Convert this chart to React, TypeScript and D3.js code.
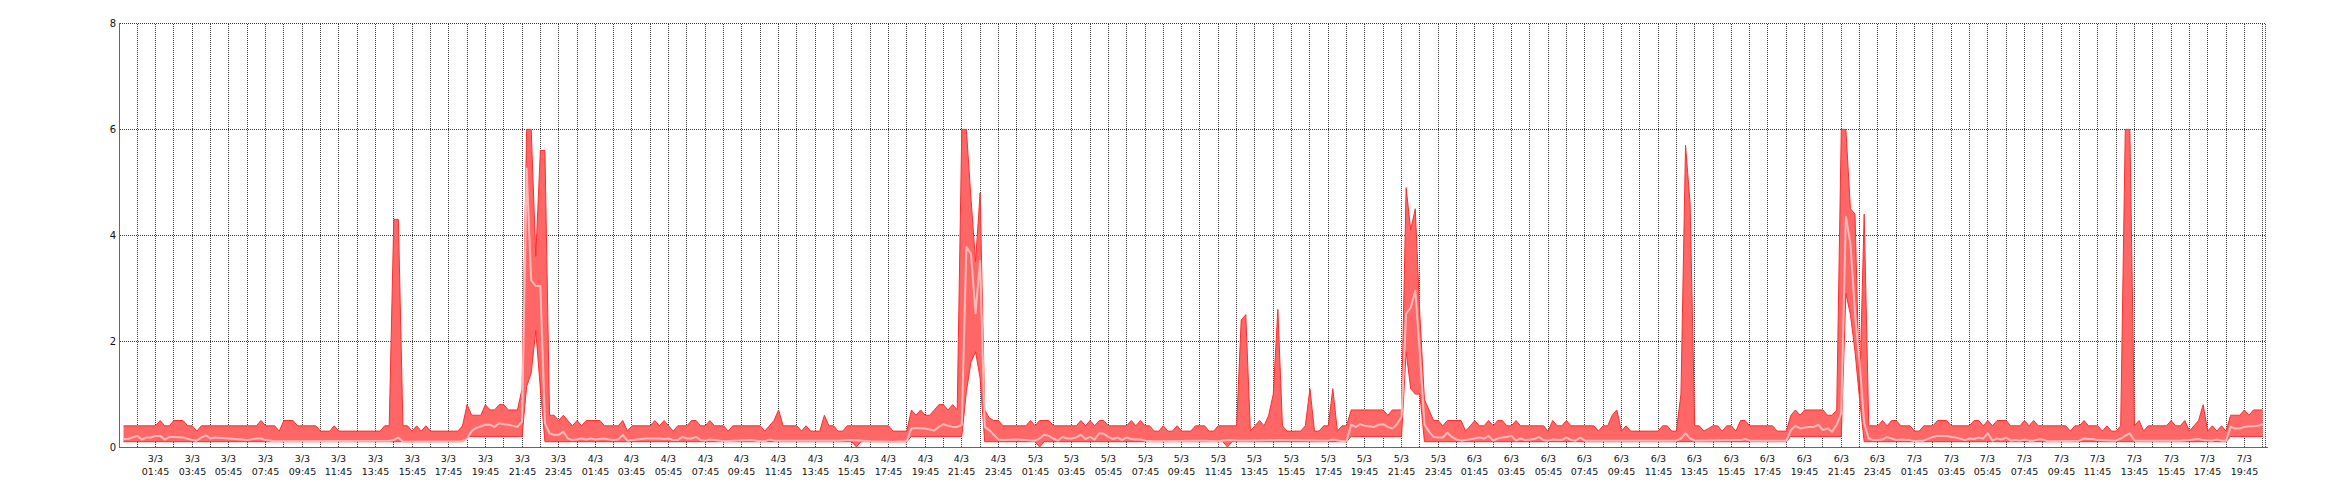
import React from "react";
import * as d3 from "d3";

// Each point: [quarter-hour index counted from 3/3 00:00, value]
const maxSeries: [number, number][] = [
  [0,0.4],[7,0.4],[8,0.5],[9,0.4],[10,0.4],[11,0.5],[13,0.5],[14,0.4],[15,0.4],[16,0.3],[17,0.4],[29,0.4],[30,0.5],[31,0.4],[33,0.4],[34,0.3],[35,0.5],[37,0.5],[38,0.4],[42,0.4],[43,0.3],[45,0.3],[46,0.4],[47,0.3],[56,0.3],[57,0.4],[58,0.4],[59,4.3],[60,4.3],[61,0.4],[62,0.4],[63,0.3],[64,0.4],[65,0.3],[66,0.4],[67,0.3],[73,0.3],[74,0.4],[75,0.8],[76,0.6],[78,0.6],[79,0.8],[80,0.7],[81,0.7],[82,0.8],[83,0.8],[84,0.7],[86,0.7],[87,1.1],[88,6],[89,6],[90,3.6],[91,5.6],[92,5.6],[93,0.6],[94,0.6],[95,0.5],[96,0.6],[97,0.5],[98,0.4],[99,0.5],[100,0.4],[101,0.5],[104,0.5],[105,0.4],[108,0.4],[109,0.5],[110,0.3],[111,0.4],[115,0.4],[116,0.5],[117,0.4],[118,0.5],[119,0.4],[120,0.3],[121,0.4],[123,0.4],[124,0.5],[125,0.5],[126,0.4],[127,0.4],[128,0.5],[129,0.4],[131,0.4],[132,0.3],[133,0.4],[139,0.4],[140,0.3],[141,0.4],[142,0.5],[143,0.7],[144,0.4],[147,0.4],[148,0.3],[149,0.4],[150,0.3],[152,0.3],[153,0.6],[154,0.4],[155,0.4],[156,0.3],[157,0.3],[158,0.4],[167,0.4],[168,0.3],[171,0.3],[172,0.7],[173,0.6],[174,0.7],[175,0.6],[176,0.6],[177,0.7],[178,0.8],[179,0.8],[180,0.7],[181,0.8],[182,0.7],[183,6],[184,6],[185,4.7],[186,3.5],[187,4.8],[188,0.7],[189,0.55],[190,0.5],[191,0.5],[192,0.4],[197,0.4],[198,0.5],[199,0.4],[200,0.5],[202,0.5],[203,0.4],[208,0.4],[209,0.5],[210,0.4],[211,0.5],[212,0.4],[213,0.5],[214,0.5],[215,0.4],[219,0.4],[220,0.5],[221,0.4],[222,0.5],[223,0.4],[224,0.4],[225,0.3],[226,0.3],[227,0.4],[228,0.3],[229,0.3],[230,0.4],[231,0.3],[233,0.3],[234,0.4],[236,0.4],[237,0.3],[238,0.3],[239,0.4],[243,0.4],[244,2.4],[245,2.5],[246,0.3],[247,0.4],[248,0.5],[249,0.4],[250,0.6],[251,1.0],[252,2.6],[253,0.4],[254,0.3],[257,0.3],[258,0.4],[259,1.1],[260,0.3],[261,0.3],[262,0.4],[263,0.4],[264,1.1],[265,0.3],[266,0.4],[267,0.4],[268,0.7],[275,0.7],[276,0.6],[277,0.7],[279,0.7],[280,4.9],[281,4.1],[282,4.5],[283,2.5],[284,0.9],[285,0.7],[286,0.5],[287,0.5],[288,0.4],[289,0.5],[292,0.5],[293,0.3],[294,0.4],[295,0.5],[296,0.4],[297,0.4],[298,0.5],[299,0.4],[300,0.5],[301,0.5],[302,0.4],[303,0.4],[304,0.5],[305,0.4],[310,0.4],[311,0.3],[312,0.5],[313,0.4],[314,0.4],[315,0.5],[316,0.4],[321,0.4],[322,0.3],[323,0.4],[324,0.4],[325,0.6],[326,0.7],[327,0.3],[328,0.4],[329,0.3],[335,0.3],[336,0.4],[337,0.4],[338,0.3],[339,0.3],[340,1.0],[341,5.7],[342,4.6],[343,0.4],[344,0.4],[345,0.3],[346,0.35],[347,0.4],[348,0.4],[349,0.3],[350,0.4],[351,0.4],[352,0.3],[353,0.5],[354,0.5],[355,0.4],[360,0.4],[361,0.3],[363,0.3],[364,0.6],[365,0.7],[366,0.6],[367,0.7],[371,0.7],[372,0.6],[373,0.6],[374,0.7],[375,6],[376,6],[377,4.5],[378,4.4],[379,1.0],[380,4.4],[381,0.4],[383,0.4],[384,0.5],[385,0.4],[386,0.5],[387,0.5],[388,0.4],[390,0.4],[391,0.3],[392,0.3],[393,0.4],[395,0.4],[396,0.5],[398,0.5],[399,0.4],[403,0.4],[404,0.5],[405,0.5],[406,0.4],[407,0.5],[408,0.4],[409,0.5],[411,0.5],[412,0.4],[414,0.4],[415,0.5],[416,0.4],[417,0.5],[418,0.4],[424,0.4],[425,0.3],[426,0.4],[427,0.4],[428,0.5],[429,0.4],[431,0.4],[432,0.3],[433,0.4],[434,0.3],[435,0.3],[436,0.4],[437,6],[438,6],[439,0.4],[440,0.5],[441,0.3],[442,0.4],[446,0.4],[447,0.5],[448,0.4],[449,0.4],[450,0.5],[451,0.3],[452,0.4],[453,0.5],[454,0.8],[455,0.3],[456,0.4],[457,0.3],[458,0.4],[459,0.3],[460,0.6],[462,0.6],[463,0.7],[464,0.6],[465,0.7],[467,0.7]
];

const minSeries: [number, number][] = [
  [0,0.1],[74,0.1],[75,0.2],[87,0.2],[88,1.14],[89,1.4],[90,2.2],[91,1.1],[92,0.1],[159,0.1],[160,0.0],[161,0.1],[171,0.1],[172,0.2],[183,0.2],[184,1.05],[185,1.6],[186,1.8],[187,1.3],[188,0.1],[199,0.1],[200,0.0],[201,0.1],[240,0.1],[241,0.0],[242,0.1],[267,0.1],[268,0.2],[279,0.2],[280,1.8],[281,1.1],[282,1.0],[283,1.0],[284,0.1],[363,0.1],[364,0.2],[375,0.2],[376,2.9],[377,2.5],[378,1.8],[379,0.9],[380,0.1],[459,0.1],[460,0.2],[467,0.2]
];

const avgSeries: [number, number][] = [
  [0,0.15],[1,0.15],[3,0.21],[4,0.14],[5,0.18],[6,0.18],[7,0.21],[8,0.21],[9,0.14],[10,0.19],[11,0.19],[13,0.18],[15,0.13],[16,0.12],[17,0.18],[18,0.22],[19,0.16],[20,0.18],[23,0.16],[27,0.13],[29,0.16],[30,0.16],[31,0.13],[33,0.11],[58,0.12],[59,0.13],[60,0.18],[61,0.1],[74,0.11],[75,0.16],[76,0.3],[77,0.36],[79,0.42],[80,0.42],[81,0.38],[82,0.45],[83,0.43],[84,0.42],[86,0.38],[87,0.48],[88,5.26],[89,3.15],[90,3.04],[91,3.04],[92,0.45],[93,0.26],[94,0.23],[95,0.23],[96,0.29],[97,0.16],[98,0.13],[99,0.14],[100,0.16],[101,0.14],[102,0.16],[103,0.14],[105,0.16],[106,0.14],[107,0.13],[108,0.14],[109,0.23],[110,0.12],[111,0.13],[112,0.14],[114,0.16],[117,0.16],[118,0.15],[119,0.16],[120,0.13],[121,0.13],[122,0.19],[123,0.16],[124,0.16],[125,0.19],[126,0.13],[127,0.12],[128,0.14],[129,0.13],[131,0.11],[137,0.13],[139,0.11],[140,0.11],[141,0.14],[142,0.12],[156,0.12],[159,0.13],[163,0.11],[168,0.1],[171,0.11],[172,0.35],[173,0.36],[175,0.35],[176,0.33],[177,0.31],[178,0.38],[179,0.43],[180,0.4],[181,0.38],[182,0.38],[183,0.42],[184,3.78],[185,3.65],[186,2.53],[187,3.52],[188,0.38],[189,0.32],[190,0.23],[191,0.14],[192,0.13],[195,0.14],[197,0.13],[199,0.12],[200,0.16],[201,0.23],[202,0.21],[203,0.16],[204,0.12],[205,0.19],[206,0.16],[207,0.16],[208,0.18],[209,0.23],[210,0.15],[211,0.19],[212,0.14],[213,0.26],[214,0.25],[215,0.19],[216,0.15],[217,0.18],[218,0.13],[219,0.18],[220,0.15],[221,0.14],[222,0.14],[223,0.12],[225,0.11],[235,0.12],[236,0.12],[239,0.11],[241,0.13],[244,0.12],[252,0.13],[263,0.12],[264,0.14],[266,0.11],[267,0.11],[268,0.42],[269,0.38],[270,0.43],[271,0.4],[273,0.38],[274,0.42],[275,0.43],[276,0.38],[277,0.35],[278,0.43],[279,0.57],[280,2.52],[281,2.63],[282,2.95],[283,1.77],[284,0.43],[285,0.29],[286,0.19],[287,0.18],[288,0.18],[289,0.27],[290,0.19],[291,0.14],[292,0.12],[293,0.13],[295,0.16],[296,0.18],[297,0.16],[298,0.21],[299,0.12],[300,0.16],[301,0.18],[302,0.19],[303,0.21],[304,0.12],[305,0.16],[306,0.13],[307,0.14],[308,0.15],[309,0.19],[310,0.13],[311,0.12],[312,0.14],[314,0.13],[315,0.18],[316,0.13],[317,0.12],[318,0.18],[319,0.12],[339,0.12],[340,0.16],[341,0.26],[342,0.16],[343,0.12],[353,0.13],[354,0.15],[355,0.12],[363,0.12],[364,0.32],[365,0.4],[366,0.35],[367,0.37],[368,0.38],[369,0.38],[370,0.42],[371,0.32],[372,0.35],[373,0.29],[374,0.42],[375,0.64],[376,4.35],[377,3.84],[378,2.52],[379,1.6],[380,0.45],[381,0.16],[382,0.13],[383,0.13],[384,0.14],[385,0.19],[386,0.16],[387,0.13],[388,0.14],[390,0.13],[391,0.11],[392,0.12],[393,0.12],[395,0.19],[396,0.21],[398,0.21],[399,0.19],[400,0.18],[402,0.13],[403,0.16],[404,0.15],[405,0.18],[406,0.16],[407,0.26],[408,0.12],[409,0.16],[410,0.14],[411,0.18],[412,0.12],[413,0.13],[414,0.12],[415,0.14],[416,0.12],[417,0.12],[418,0.14],[419,0.14],[420,0.11],[427,0.12],[428,0.16],[429,0.15],[430,0.15],[431,0.13],[435,0.12],[436,0.16],[437,0.21],[438,0.26],[439,0.12],[449,0.12],[451,0.13],[453,0.15],[454,0.13],[456,0.12],[457,0.14],[458,0.12],[459,0.12],[460,0.38],[461,0.35],[462,0.35],[463,0.38],[464,0.39],[465,0.39],[466,0.4],[467,0.43]
];

const yTicks = [0, 2, 4, 6, 8];
const dayLabels = ["3/3", "4/3", "5/3", "6/3", "7/3"];
const timeLabels = ["01:45", "03:45", "05:45", "07:45", "09:45", "11:45", "13:45", "15:45", "17:45", "19:45", "21:45", "23:45"];
const lastDayLabelCount = 10;

const W = 2340;
const H = 500;
const FONT = "'DejaVu Sans', Verdana, sans-serif";

export default function App() {
  const x = d3.scaleLinear().domain([-0.22, 116.93]).range([119.5, 2266]);
  const y = d3.scaleLinear().domain([0, 8]).range([447, 23.5]);
  const px = (i: number) => x(i / 4);

  const maxPts = maxSeries.map(([i, v]) => [px(i), y(v)] as [number, number]);
  const minPts = minSeries.map(([i, v]) => [px(i), y(v)] as [number, number]);
  const line = d3.line<[number, number]>();
  const bandPath = line([...maxPts, ...minPts.slice().reverse()]) + "Z";
  const maxPath = line(maxPts) || "";
  const minPath = line(minPts) || "";
  const avgPath =
    d3
      .line<[number, number]>()
      .x((d) => px(d[0]))
      .y((d) => y(d[1]))(avgSeries) || "";

  const crisp = (v: number) => Math.floor(v) + 0.5;
  const hourLines: number[] = [];
  for (let h = 0.75; h <= 116.76; h += 1) hourLines.push(h);

  const labels: { h: number; day: string; time: string }[] = [];
  dayLabels.forEach((day, d) => {
    timeLabels.forEach((time, i) => {
      if (d === dayLabels.length - 1 && i >= lastDayLabelCount) return;
      labels.push({ h: d * 24 + 1.75 + 2 * i, day, time });
    });
  });

  const top = y(8);
  const bottom = y(0);
  const left = 119.5;
  const right = 2265.5;

  return (
    <svg
      width={W}
      height={H}
      style={{ position: "absolute", left: 0, top: 0, background: "#fff" }}
      fontFamily={FONT}
    >
      <rect x={0} y={0} width={W} height={H} fill="#fff" />
      {/* grid */}
      <g stroke="#3a3a3a" strokeWidth={1} strokeDasharray="1,1" shapeRendering="crispEdges">
        {yTicks.filter((t) => t > 0).map((t) => (
          <line key={"gy" + t} x1={left} x2={right} y1={crisp(y(t))} y2={crisp(y(t))} />
        ))}
        {hourLines.map((h) => (
          <line key={"gx" + h} x1={crisp(x(h))} x2={crisp(x(h))} y1={crisp(top)} y2={bottom} />
        ))}
        <line x1={right} x2={right} y1={crisp(top)} y2={bottom} />
      </g>
      {/* band */}
      <path d={bandPath} fill="#ff6666" stroke="none" />
      <path d={maxPath} fill="none" stroke="#ff2d2d" strokeWidth={1} />
      <path d={minPath} fill="none" stroke="#ff2d2d" strokeWidth={1} />
      <path d={avgPath} fill="none" stroke="#ffb9b9" strokeWidth={2} strokeLinejoin="round" />
      {/* axes */}
      <g stroke="#666" strokeWidth={1} shapeRendering="crispEdges">
        <line x1={left} x2={left} y1={crisp(top) - 0.5} y2={bottom + 1} />
        <line x1={left - 0.5} x2={right + 2} y1={bottom + 0.5} y2={bottom + 0.5} />
      </g>
      {/* y labels */}
      <g fontSize={10} fill="#111" textAnchor="end">
        {yTicks.map((t) => (
          <text key={"yl" + t} x={116} y={y(t) + 3.6}>
            {t}
          </text>
        ))}
      </g>
      {/* x labels */}
      <g fontSize={9.5} fill="#111" textAnchor="middle">
        {labels.map((l) => (
          <g key={"xl" + l.h}>
            <text x={crisp(x(l.h))} y={462}>
              {l.day}
            </text>
            <text x={crisp(x(l.h))} y={474.5}>
              {l.time}
            </text>
          </g>
        ))}
      </g>
    </svg>
  );
}
